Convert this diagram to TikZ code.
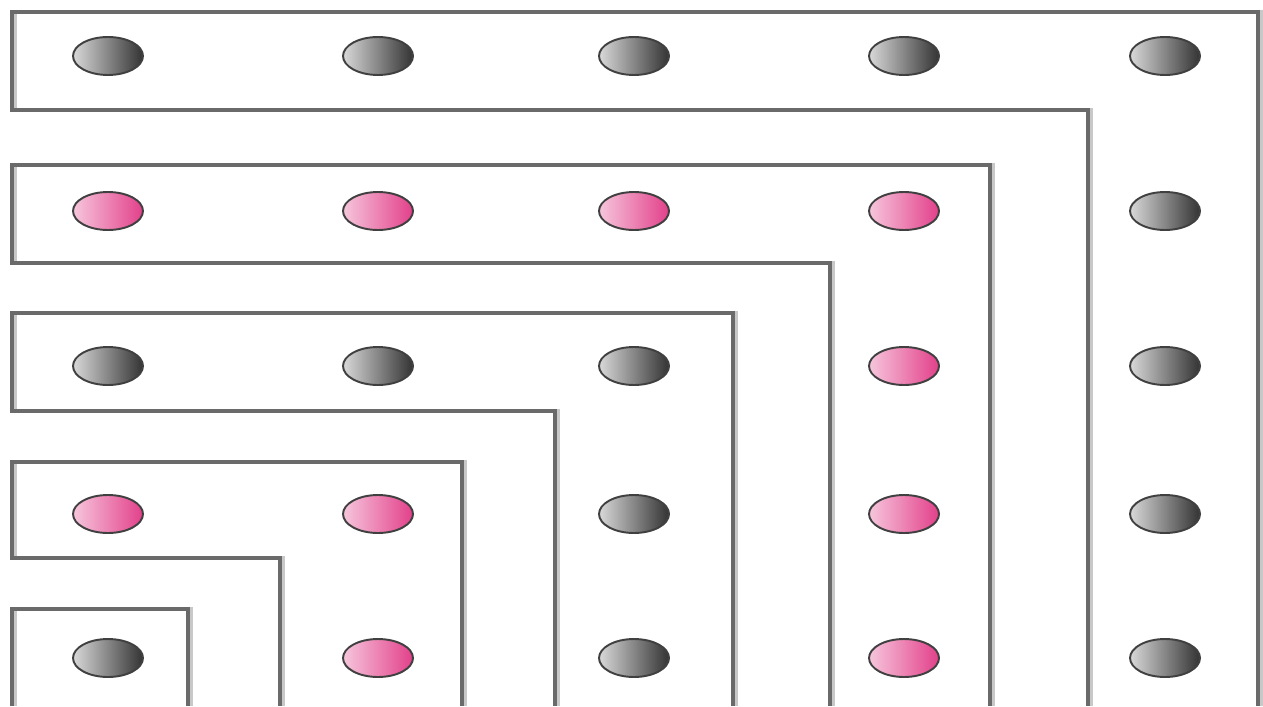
\documentclass[tikz,border=0pt]{standalone}
\usepackage{xcolor}
\usepackage{tikz}
\usetikzlibrary{
  shapes.geometric,
  calc
}
\definecolor{wallgray}{HTML}{6A6A6A}
\definecolor{wallshade}{HTML}{C8C8C8}
\definecolor{pinklight}{HTML}{F6C6DC}
\definecolor{pinkdark}{HTML}{E2408A}

\begin{document}
\begin{tikzpicture}[x=0.02cm,y=-0.02cm,
  dotbase/.style={ellipse, draw=black!75, line width=1.1pt, minimum width=1.4cm, minimum height=0.76cm, inner sep=0pt},
  graydot/.style={dotbase, left color=black!15, right color=black!80},
  pinkdot/.style={dotbase, left color=pinklight, right color=pinkdark},
  wall/.style={draw=wallgray, line width=2.1pt},
  wallshadow/.style={draw=wallshade, line width=2.1pt, xshift=0.06cm}]
  \useasboundingbox (0,0) rectangle (1263,706);

  % outline of the L shapes
  \foreach \n/\xi/\yb/\yt/\xr in {5/1088/110/12/1258, 4/830/263/165/990, 3/555/411/313/733, 2/280/558/462/462}{
    \draw[wallshadow] (\xi,706) -- (\xi,\yb) -- (12,\yb) -- (12,\yt) -- (\xr,\yt) -- (\xr,706);
    \draw[wall] (\xi,706) -- (\xi,\yb) -- (12,\yb) -- (12,\yt) -- (\xr,\yt) -- (\xr,706);
  }
  \draw[wallshadow] (12,706) -- (12,609) -- (188,609) -- (188,706);
  \draw[wall] (12,706) -- (12,609) -- (188,609) -- (188,706);

  % dots, column i from left, row j from bottom
  \foreach \i in {1,...,5}{
    \foreach \j in {1,...,5}{
      \pgfmathsetmacro\px{{108,378,634,904,1165}[\i-1]}
      \pgfmathsetmacro\py{{658,514,366,211,56}[\j-1]}
      \pgfmathtruncatemacro\lk{max(\i,\j)}
      \pgfmathtruncatemacro\odd{mod(\lk,2)}
      \ifnum\odd=1 \def\dotkind{graydot}\else\def\dotkind{pinkdot}\fi
      \node[\dotkind] (d\i\j) at (\px,\py) {};
    }
  }
\end{tikzpicture}
\end{document}
